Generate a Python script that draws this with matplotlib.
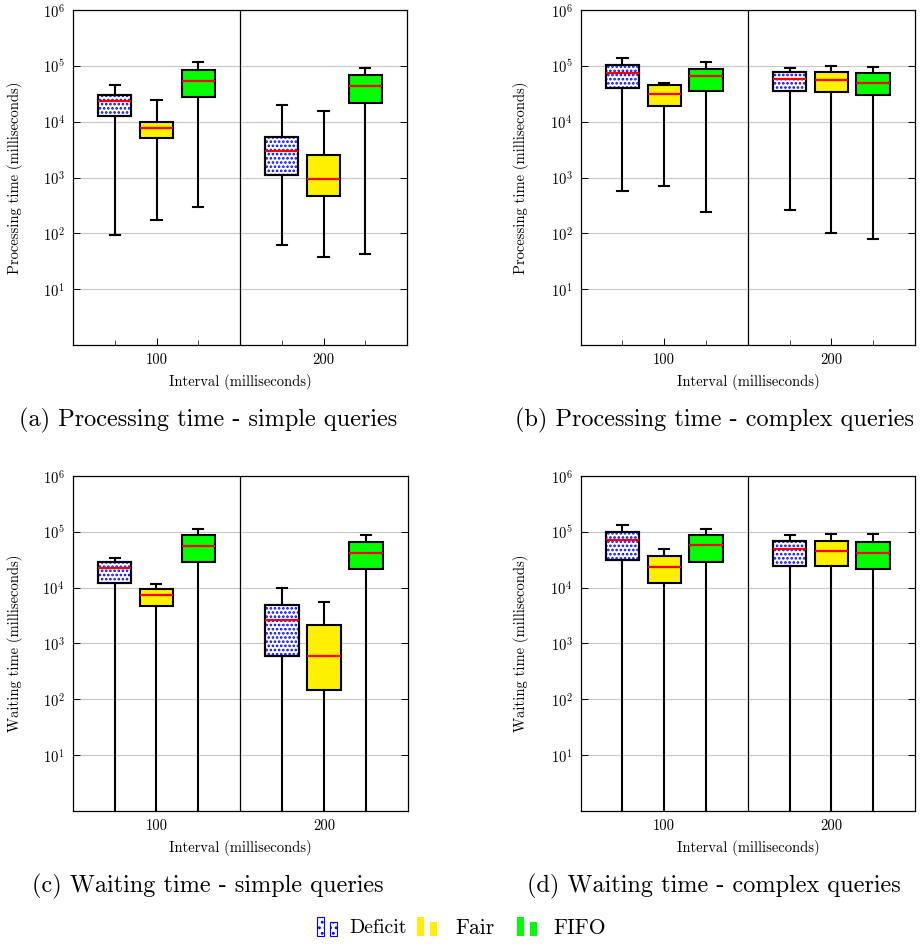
import numpy as np
import matplotlib
matplotlib.use("Agg")
import matplotlib.pyplot as plt
from matplotlib.patches import Rectangle, PathPatch

plt.rcParams['font.family'] = 'serif'
plt.rcParams['font.serif'] = ['cmr10']
plt.rcParams['mathtext.fontset'] = 'cm'
plt.rcParams['axes.unicode_minus'] = False
plt.rcParams['hatch.linewidth'] = 1.25

# ---------------- data ----------------
intervals = ['100', '200']
schedulers = ['Deficit', 'Fair', 'FIFO']
sched_colors = ['white', '#FFF000', '#00FF00']
# order of each list: (100: Deficit, Fair, FIFO), (200: Deficit, Fair, FIFO)

# (a) Processing time - simple queries
pa_lo  = [93, 170, 300, 62, 38, 42]
pa_q1  = [12600, 5000, 28200, 1120, 460, 21900]
pa_med = [23400, 7600, 53700, 3000, 950, 42700]
pa_q3  = [30200, 10000, 85100, 5400, 2500, 67600]
pa_hi  = [46200, 24000, 115000, 19500, 15800, 93300]

# (b) Processing time - complex queries
pb_lo  = [575, 690, 245, 257, 100, 78]
pb_q1  = [40700, 19000, 34700, 34700, 33900, 29500]
pb_med = [75900, 30900, 64600, 57500, 55000, 50100]
pb_q3  = [102000, 45700, 89100, 77600, 77600, 74100]
pb_hi  = [138000, 50100, 115000, 93300, 97700, 95500]

# (c) Waiting time - simple queries
wc_lo  = [0, 0, 0, 0, 0, 0]
wc_q1  = [12300, 4700, 28200, 600, 145, 21400]
wc_med = [22400, 7400, 56200, 2600, 590, 41700]
wc_q3  = [28200, 9500, 87100, 4900, 2100, 66100]
wc_hi  = [33900, 11700, 112000, 9800, 5600, 89100]

# (d) Waiting time - complex queries
wd_lo  = [0, 0, 0, 0, 0, 0]
wd_q1  = [30900, 12300, 28200, 24500, 24500, 21400]
wd_med = [70800, 22900, 57500, 49000, 45700, 41700]
wd_q3  = [97700, 36300, 87100, 69200, 67600, 66100]
wd_hi  = [135000, 50100, 112000, 89100, 91200, 91200]

panels = [
    ((pa_lo, pa_q1, pa_med, pa_q3, pa_hi), 'Processing time (milliseconds)',
     '(a) Processing time - simple queries'),
    ((pb_lo, pb_q1, pb_med, pb_q3, pb_hi), 'Processing time (milliseconds)',
     '(b) Processing time - complex queries'),
    ((wc_lo, wc_q1, wc_med, wc_q3, wc_hi), 'Waiting time (milliseconds)',
     '(c) Waiting time - simple queries'),
    ((wd_lo, wd_q1, wd_med, wd_q3, wd_hi), 'Waiting time (milliseconds)',
     '(d) Waiting time - complex queries'),
]

W, H = 922, 944
fig = plt.figure(figsize=(W / 100, H / 100), dpi=100)

# axes rectangles in pixels: left, top, right, bottom
rects = [(73, 10, 407, 345), (580.7, 10, 915, 345),
         (72.7, 476, 407.7, 810.7), (580.7, 476, 915, 810.7)]
ylabel_x = [23, 529, 23, 529]
caption_pos = [(208, 420), (714, 420), (208, 886), (714, 886)]

offsets = [-0.25, 0.0, 0.25]
lw = 1.5

for (data, ylab, cap), (l, t, r, b), yx, (cx, cy) in zip(panels, rects, ylabel_x, caption_pos):
    ax = fig.add_axes([l / W, 1 - b / H, (r - l) / W, (b - t) / H])
    lo, q1, med, q3, hi = data
    stats, pos, cols = [], [], []
    k = 0
    for i, iv in enumerate(intervals):
        for j, s in enumerate(schedulers):
            stats.append(dict(whislo=lo[k], q1=q1[k], med=med[k], q3=q3[k],
                              whishi=hi[k], fliers=[]))
            pos.append(i + 1 + offsets[j])
            cols.append(sched_colors[j])
            k += 1
    res = ax.bxp(stats, positions=pos, widths=0.2, capwidths=0.06,
                 patch_artist=True, showfliers=False,
                 boxprops=dict(linewidth=lw, edgecolor='black'),
                 whiskerprops=dict(linewidth=lw, color='black'),
                 capprops=dict(linewidth=lw, color='black'),
                 medianprops=dict(linewidth=1.6, color='#FF0000'),
                 manage_ticks=False)
    for idx, (box, c) in enumerate(zip(res['boxes'], cols)):
        box.set_facecolor(c)
        if idx % 3 == 0:
            hp = PathPatch(box.get_path(), transform=box.get_transform(),
                           facecolor='none', edgecolor='#0000FF', linewidth=0,
                           hatch='....', zorder=box.get_zorder() + 0.01)
            ax.add_patch(hp)
            ol = PathPatch(box.get_path(), transform=box.get_transform(),
                           facecolor='none', edgecolor='black', linewidth=lw,
                           zorder=box.get_zorder() + 0.02)
            ax.add_patch(ol)

    ax.set_yscale('log')
    ax.set_ylim(1, 1e6)
    ax.set_xlim(0.5, 2.5)
    ax.axvline(1.5, color='black', linewidth=0.9, zorder=1)
    ax.set_yticks([10 ** e for e in range(1, 7)])
    ax.set_yticklabels([r'$10^{%d}$' % e for e in range(1, 7)])
    ax.yaxis.set_minor_locator(matplotlib.ticker.NullLocator())
    ax.set_xticks([1, 2])
    ax.set_xticklabels(intervals)
    ax.set_xticks([0.75, 1.25, 1.75, 2.25], minor=True)
    ax.tick_params(axis='x', which='both', direction='in', top=False, pad=6,
                   labelsize=10.5)
    ax.tick_params(axis='x', which='major', length=5, width=0.7)
    ax.tick_params(axis='x', which='minor', length=3.5, width=0.5)
    ax.tick_params(axis='y', which='major', direction='in', left=True, right=True,
                   length=5, width=0.7, pad=6, labelsize=10.5)
    ax.grid(True, axis='y', which='major', color='#C8C8C8', linewidth=0.8)
    ax.set_axisbelow(True)
    for sp in ax.spines.values():
        sp.set_linewidth(0.9)
    ax.set_ylabel(ylab, fontsize=10.5)
    ax.yaxis.set_label_coords((yx - l) / (r - l), 0.5)
    ax.set_xlabel('Interval (milliseconds)', fontsize=10.5)
    ax.xaxis.set_label_coords(0.5, -(374 - 345) / 335)
    fig.text(cx / W, 1 - cy / H, cap, fontsize=17.5, ha='center', va='center')

# legend (manual, pgfplots style)
leg_y = 928
icon_specs = [(317, 'white', True, 'Deficit', 349, 14.3),
              (417, '#FFF000', False, 'Fair', 455, 15.5),
              (517, '#00FF00', False, 'FIFO', 553, 15.5)]
for x0, c, hatched, label, tx, fs in icon_specs:
    for dx, h in ((0, 19), (13, 14)):
        rect = Rectangle(((x0 + dx) / W, 1 - 936 / H), 7 / W, h / H,
                         transform=fig.transFigure, facecolor=c,
                         edgecolor='#0000FF' if hatched else c,
                         linewidth=0.8 if hatched else 0,
                         hatch='...' if hatched else None)
        fig.add_artist(rect)
    fig.text(tx / W, 1 - leg_y / H, label, fontsize=fs,
             ha='left', va='center')

fig.savefig('out.png', dpi=100)
